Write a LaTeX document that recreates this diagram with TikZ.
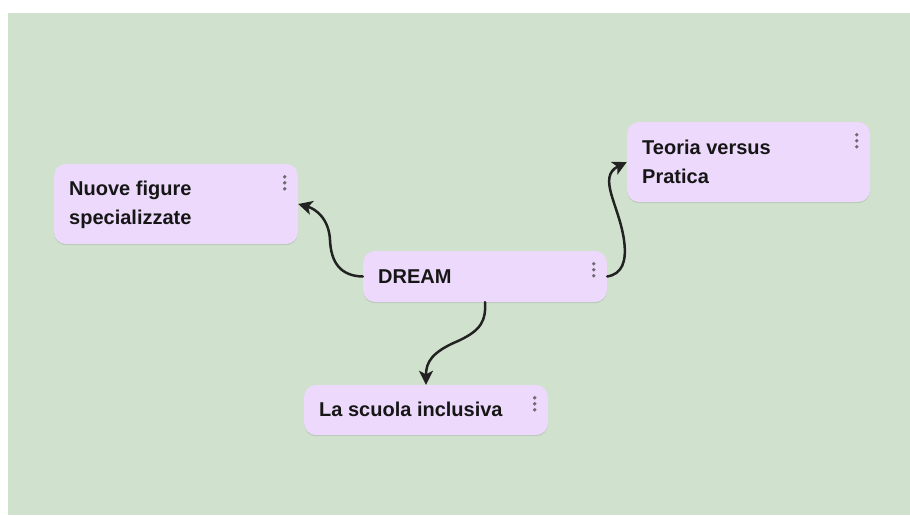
\documentclass[tikz,border=0pt]{standalone}
\usepackage{fontspec}
\setmainfont{Liberation Sans}
\usetikzlibrary{arrows.meta,calc}
\definecolor{bgwhite}{HTML}{FFFFFF}
\definecolor{bggreen}{HTML}{D0E2CE}
\definecolor{boxfill}{HTML}{EDD9FB}
\definecolor{txtcol}{HTML}{161616}
\definecolor{dotcol}{HTML}{6E6A72}
\definecolor{arrowcol}{HTML}{222222}
\tikzset{
  card/.style={draw=none, fill=boxfill, rounded corners=12pt, inner sep=0pt,
    preaction={fill=black, opacity=0.10, transform canvas={yshift=-1.2pt}}},
  lbl/.style={font=\fontsize{20}{29}\selectfont\bfseries, text=txtcol, inner sep=0pt, align=left},
  link/.style={line width=2.5pt, draw=arrowcol, line cap=round,
    -{Stealth[length=14pt,width=14pt,inset=3.5pt]}},
  menudot/.style={fill=dotcol}
}
\newcommand{\menudots}[1]{%
  \fill[menudot] ($(#1.north east)+(-13.5,13)$) circle (1.9);
  \fill[menudot] ($(#1.north east)+(-13.5,19)$) circle (1.9);
  \fill[menudot] ($(#1.north east)+(-13.5,25)$) circle (1.9);
}
\begin{document}
\begin{tikzpicture}[x=1pt,y=-1pt]
  \useasboundingbox (0,0) rectangle (910,515);
  \fill[bgwhite] (0,0) rectangle (910,515);
  \fill[bggreen] (8,13) rectangle (910,515);

  % cards
  \node[card, minimum width=244, minimum height=80] (nuove) at (176,204) {};
  \node[card, minimum width=244, minimum height=51] (dream) at (485,276.5) {};
  \node[card, minimum width=243, minimum height=80] (teoria) at (748.5,162) {};
  \node[card, minimum width=244, minimum height=50] (scuola) at (426,410) {};

  % labels
  \node[lbl, anchor=north west] (tnuove) at (69,180.4) {Nuove figure\\specializzate};
  \node[lbl, anchor=base west] (tdream) at (378,283) {DREAM};
  \node[lbl, anchor=north west] (tteoria) at (642,139.7) {Teoria versus\\Pratica};
  \node[lbl, anchor=base west] (tscuola) at (319,416) {La scuola inclusiva};

  % menu dots
  \menudots{nuove}
  \menudots{dream}
  \menudots{teoria}
  \menudots{scuola}

  % connectors
  \draw[link] (dream.west) .. controls (340,276) and (331,262) .. (330,240)
              .. controls (329,219) and (316,209) .. (nuove.east);
  \draw[link] (dream.east) .. controls (622,274) and (627,262) .. (624,240)
              .. controls (619,205) and (597,177) .. (teoria.west);
  \draw[link] (dream.south) .. controls (486,320) and (482,330) .. (458,341)
              .. controls (432,352) and (426,362) .. (scuola.north);
\end{tikzpicture}
\end{document}
